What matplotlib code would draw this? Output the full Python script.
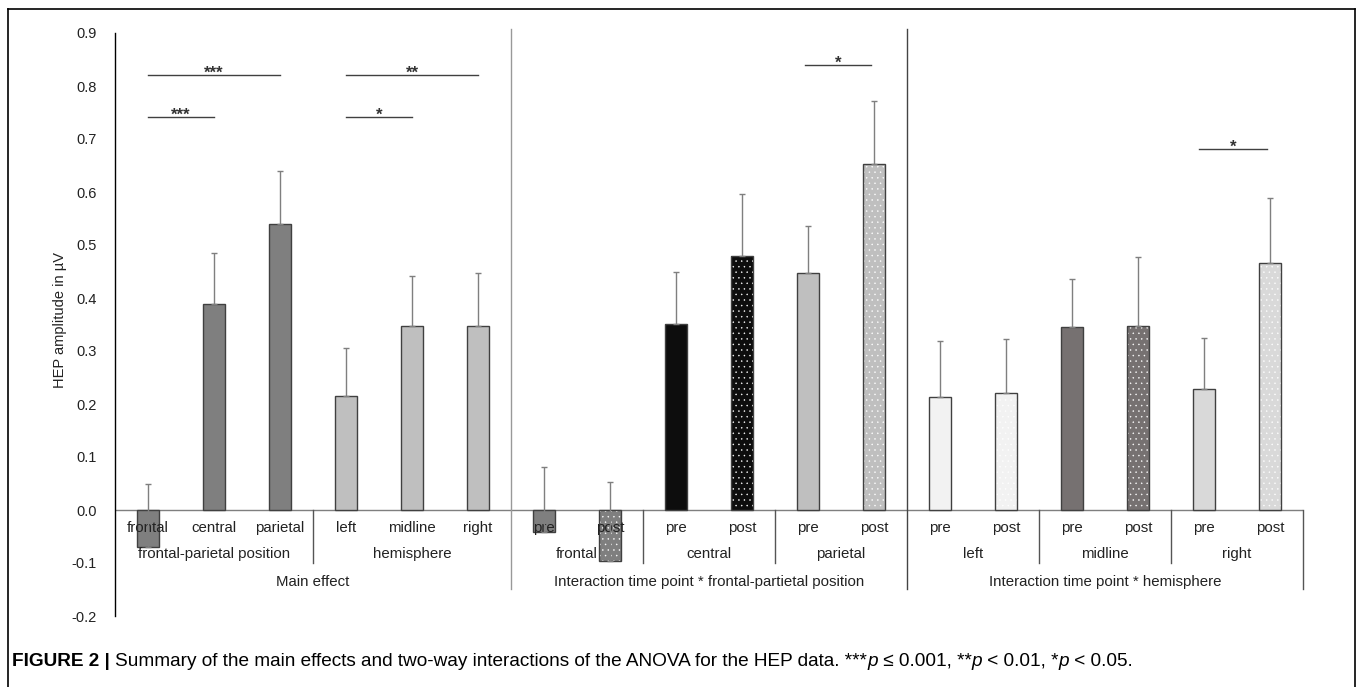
import numpy as np
import matplotlib
matplotlib.use("Agg")
import matplotlib.pyplot as plt
from matplotlib.lines import Line2D

plt.rcParams['font.family'] = ['Liberation Sans', 'DejaVu Sans']
plt.rcParams['hatch.linewidth'] = 0.3

# bar labels (lowest level), values and one-sided (upper) errors
bar_labels = ['frontal', 'central', 'parietal', 'left', 'midline', 'right',
              'pre', 'post', 'pre', 'post', 'pre', 'post',
              'pre', 'post', 'pre', 'post', 'pre', 'post']
values = [-0.069, 0.388, 0.540, 0.216, 0.347, 0.347,
          -0.042, -0.096, 0.351, 0.480, 0.448, 0.653,
          0.214, 0.220, 0.345, 0.348, 0.228, 0.466]
errors = [0.119, 0.096, 0.099, 0.090, 0.095, 0.100,
          0.124, 0.149, 0.099, 0.116, 0.088, 0.119,
          0.104, 0.102, 0.090, 0.130, 0.096, 0.123]
colors = ['#7f7f7f', '#7f7f7f', '#7f7f7f', '#bfbfbf', '#bfbfbf', '#bfbfbf',
          '#7f7f7f', '#7f7f7f', '#0d0d0d', '#0d0d0d', '#bfbfbf', '#bfbfbf',
          '#f2f2f2', '#f2f2f2', '#767171', '#767171', '#d9d9d9', '#d9d9d9']
dotted = [False] * 6 + [False, True] * 6

# second and third label levels
mid_labels = ['frontal-parietal position', 'hemisphere', 'frontal', 'central',
              'parietal', 'left', 'midline', 'right']
mid_centers = [1, 4, 6.5, 8.5, 10.5, 12.5, 14.5, 16.5]
top_labels = ['Main effect', 'Interaction time point * frontal-partietal position',
              'Interaction time point * hemisphere']
top_centers = [2.5, 8.5, 14.5]

# significance brackets: (x start, x end, height, stars)
sig = [(0, 2, 0.82, '***'), (0, 1, 0.741, '***'),
       (3, 5, 0.82, '**'), (3, 4, 0.741, '*'),
       (9.95, 10.96, 0.84, '*'), (15.93, 16.95, 0.682, '*')]

W, H = 1357, 687
fig = plt.figure(figsize=(W / 100, H / 100), dpi=100)
ax = fig.add_axes([115 / W, (H - 616) / H, (1303 - 115) / W, (616 - 33) / H])
ax.set_xlim(-0.5, 17.5)
ax.set_ylim(-0.2, 0.9)

x = np.arange(len(values))
edge = '#404040'
for xi, v, c, d in zip(x, values, colors, dotted):
    if d:
        ax.bar(xi, v, 0.32, color=c, edgecolor='white', hatch='...', linewidth=0)
        ax.bar(xi, v, 0.32, fill=False, edgecolor=edge, linewidth=1)
    else:
        ax.bar(xi, v, 0.32, color=c, edgecolor=edge, linewidth=1)

ax.errorbar(x, values, yerr=[np.zeros(len(values)), errors], fmt='none',
            ecolor='#7f7f7f', elinewidth=1, capsize=2.5, capthick=1, zorder=3)

ax.axhline(0, color='#7f7f7f', lw=1, zorder=0.5)

for sp in ['top', 'right', 'bottom']:
    ax.spines[sp].set_visible(False)
ax.spines['left'].set_linewidth(1)
ax.set_xticks([])
yt = np.round(np.arange(-0.2, 0.91, 0.1), 1)
ax.set_yticks(yt)
ax.set_yticklabels([f"{v:.1f}" for v in yt])
ax.tick_params(axis='y', length=0, pad=13, labelsize=10.5, labelcolor='#222222')

fs = 10.8
for xi, lab in zip(x, bar_labels):
    ax.text(xi, -0.034, lab, ha='center', va='center', fontsize=fs, color='#222222', zorder=2)
for xc, lab in zip(mid_centers, mid_labels):
    ax.text(xc, -0.083, lab, ha='center', va='center', fontsize=fs, color='#222222')
for xc, lab in zip(top_centers, top_labels):
    ax.text(xc, -0.135, lab, ha='center', va='center', fontsize=fs, color='#222222')

# separators
for xs in [2.5, 7.5, 9.5, 13.5, 15.5]:
    ax.plot([xs, xs], [0, -0.1], color='#555555', lw=1, clip_on=False)
ax.plot([5.5, 5.5], [0.907, -0.149], color='#999999', lw=1, clip_on=False)
ax.plot([11.5, 11.5], [0.907, -0.149], color='#444444', lw=1, clip_on=False)
ax.plot([17.5, 17.5], [0, -0.149], color='#555555', lw=1, clip_on=False)

for x1, x2, yy, s in sig:
    ax.plot([x1, x2], [yy, yy], color='#404040', lw=1)
    ax.annotate(s, ((x1 + x2) / 2, yy), xytext=(0, -2), textcoords='offset points',
                ha='center', va='baseline', fontsize=12, fontweight='bold', color='#333333')

fig.text(60 / W, 1 - 320 / H, 'HEP amplitude in µV', rotation=90,
         ha='center', va='center', fontsize=10.5, color='#222222')

# outer frame
fig.add_artist(Line2D([8 / W, 1355 / W], [1 - 9 / H] * 2, color='black', lw=1.2))
fig.add_artist(Line2D([8 / W] * 2, [1 - 9 / H, 0], color='black', lw=1.2))
fig.add_artist(Line2D([1355 / W] * 2, [1 - 9 / H, 0], color='black', lw=1.2))

# caption laid out piece by piece
pieces = [('FIGURE 2 | ', dict(fontweight='bold')),
          ('Summary of the main effects and two-way interactions of the ANOVA for the HEP data. ***', {}),
          ('p', dict(style='italic')),
          (' ≤ 0.001, **', {}),
          ('p', dict(style='italic')),
          (' < 0.01, *', {}),
          ('p', dict(style='italic')),
          (' < 0.05.', {})]
renderer = fig.canvas.get_renderer()
cx, cy = 12 / W, 1 - 661 / H
for txt, kw in pieces:
    t = fig.text(cx, cy, txt, fontsize=13.7, va='center', ha='left', **kw)
    cx += t.get_window_extent(renderer).width / fig.bbox.width

fig.savefig('out.png', dpi=100)
